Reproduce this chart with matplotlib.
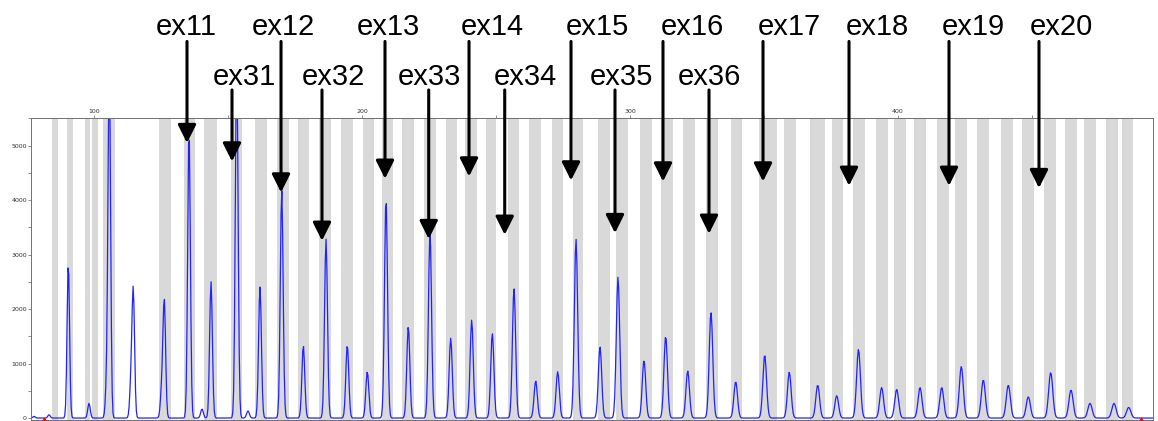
import numpy as np
import matplotlib
matplotlib.use("Agg")
import matplotlib.pyplot as plt
from matplotlib.ticker import MultipleLocator

# ---------------- data ----------------
# gray bins (size units)
bin_start = [84.33, 89.93, 96.64, 99.25, 103.36, 124.25, 133.58, 141.04, 151.12, 160.07,
             168.28, 176.12, 183.96, 192.16, 200.37, 207.46, 214.93, 223.13, 231.34, 238.43,
             246.27, 254.48, 262.31, 270.90, 278.73, 288.06, 294.78, 303.73, 311.57, 319.78,
             328.36, 337.69, 348.13, 357.46, 367.16, 375.37, 383.21, 391.79, 398.51, 405.97,
             414.55, 421.27, 429.48, 438.43, 446.27, 454.48, 462.31, 469.40, 477.61, 483.58]
bin_end = [86.57, 92.16, 98.51, 101.49, 107.84, 128.73, 137.69, 145.90, 155.22, 164.55,
           172.76, 180.22, 188.43, 196.64, 204.48, 211.57, 219.40, 227.61, 235.45, 242.91,
           250.00, 258.58, 266.79, 275.00, 282.46, 292.54, 299.25, 308.21, 316.04, 324.25,
           332.84, 341.79, 354.85, 361.94, 372.76, 379.48, 387.69, 396.27, 402.99, 410.45,
           419.03, 425.75, 433.96, 442.91, 450.75, 458.96, 466.79, 473.88, 482.09, 487.69]

# peaks of the trace (size, height in RFU)
peak_pos = [77.65, 83.21, 90.41, 98.13, 104.74, 105.71, 113.80, 114.66, 125.26, 126.23,
            135.45, 140.30, 143.66, 153.25, 157.46, 161.94, 170.04, 178.10, 186.57, 194.51,
            201.98, 208.96, 217.28, 225.37, 233.10, 240.93, 248.62, 256.72, 264.81, 273.02,
            279.85, 288.81, 295.52, 305.22, 313.32, 321.53, 330.22, 339.44, 350.26, 359.44,
            370.04, 377.13, 385.26, 393.90, 399.51, 408.21, 416.31, 423.62, 431.83, 441.16,
            448.62, 456.98, 464.55, 471.64, 480.60, 486.08]
peak_height = [30, 60, 2850, 270, 600, 6500, 600, 2290, 500, 2140,
               5300, 165, 2505, 6500, 130, 2415, 4190, 1330, 3285, 1340,
               850, 4040, 1680, 3400, 1465, 1800, 1555, 2385, 680, 850,
               3285, 1310, 2585, 1065, 1505, 865, 1940, 670, 1160, 840,
               605, 410, 1260, 560, 525, 560, 560, 945, 700, 605,
               390, 835, 515, 270, 270, 195]

# labels / arrows
ex_labels = ["ex11", "ex12", "ex13", "ex14", "ex15", "ex16", "ex17", "ex18", "ex19", "ex20",
             "ex31", "ex32", "ex33", "ex34", "ex35", "ex36"]
label_x = [134.55, 170.75, 209.89, 248.51, 287.69, 323.36, 359.33, 392.16, 428.21, 460.82,
           156.16, 189.18, 225.00, 260.82, 296.83, 329.66]
label_row = [1] * 10 + [2] * 6
arrow_x = [134.70, 169.78, 208.58, 239.93, 277.99, 312.31, 349.63, 381.72, 419.03, 452.61,
           151.49, 185.07, 224.89, 253.25, 294.40, 329.48]
arrow_tip = [5046, 4139, 4391, 4433, 4360, 4341, 4341, 4262, 4262, 4220,
             4708, 3253, 3284, 3363, 3394, 3382]

red_marks = [81.46, 490.67]

# ---------------- figure ----------------
W, H = 1158, 421
fig = plt.figure(figsize=(W / 100, H / 100), dpi=100)
ax = fig.add_axes([31 / W, 1 - 420 / H, (1153 - 31) / W, (420 - 118.3) / H])

xmin, xmax = 76.49, 495.15
ymin, ymax = -36, 5500
ax.set_xlim(xmin, xmax)
ax.set_ylim(ymin, ymax)

for s, e in zip(bin_start, bin_end):
    ax.axvspan(s, e, color="#d9d9d9", lw=0, zorder=0)

x = np.arange(xmin, xmax, 0.3)
y = np.zeros_like(x)
for p, h in zip(peak_pos, peak_height):
    sig = 0.45 + 0.35 * (p - 80) / 410
    y += h * np.exp(-0.5 * ((x - p) / sig) ** 2)
ax.plot(x, y, color="#2222ff", lw=0.9, zorder=2)

ax.plot(red_marks, [ymin] * len(red_marks), marker="^", ls="none", color="red",
        ms=3.5, clip_on=False, zorder=5)

# axes styling
for sp in ax.spines.values():
    sp.set_color("#707070")
    sp.set_linewidth(0.7)
ax.xaxis.tick_top()
ax.xaxis.set_major_locator(MultipleLocator(100))
ax.xaxis.set_minor_locator(MultipleLocator(50))
ax.yaxis.set_major_locator(MultipleLocator(1000))
ax.yaxis.set_minor_locator(MultipleLocator(500))
ax.tick_params(axis="both", which="both", direction="out", length=2, width=0.5,
               color="#606060", labelsize=4.5, pad=1, labelcolor="#303030")
ax.tick_params(axis="y", which="both", right=False)
ax.tick_params(axis="x", which="both", bottom=False)

# labels and arrows
row_text_y = {1: 7033, 2: 6116}
row_top_y = {1: 6910, 2: 6020}
for lab, lx, r, axx, tip in zip(ex_labels, label_x, label_row, arrow_x, arrow_tip):
    ax.text(lx, row_text_y[r], lab, ha="center", va="baseline", fontsize=21,
            family="Liberation Sans", color="black", clip_on=False)
    ax.annotate("", xy=(axx, tip), xytext=(axx, row_top_y[r]),
                arrowprops=dict(arrowstyle="-|>,head_length=1.1,head_width=0.55",
                                lw=2.2, color="black", shrinkA=0, shrinkB=0,
                                mutation_scale=10),
                annotation_clip=False, zorder=6)

fig.savefig("out.png", dpi=100)
